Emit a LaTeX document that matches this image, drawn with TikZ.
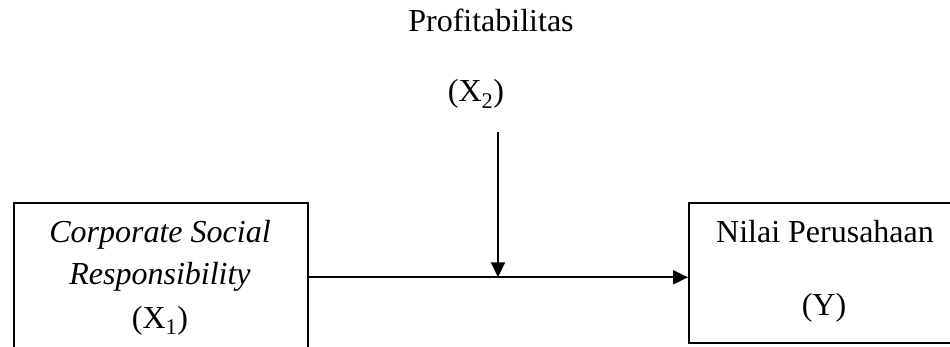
\documentclass[tikz,border=0pt]{standalone}
\usepackage{fontspec}
\setmainfont{Liberation Serif}
\usetikzlibrary{arrows.meta}
\tikzset{
  txt/.style={anchor=base,inner sep=0pt,font=\fontsize{32}{38}\selectfont},
  boxx/.style={draw,line width=2pt,inner sep=0pt,anchor=north west},
  arr/.style={line width=2pt,-{Triangle[length=15pt,width=14pt]}}
}
\begin{document}
\begin{tikzpicture}[x=1pt,y=-1pt]
\useasboundingbox (0,0) rectangle (950,347);
\begin{scope}
\clip (0,0) rectangle (950,347);
\node[boxx,minimum width=294.5pt,minimum height=170pt] (lbox) at (12.5,202.5) {};
\node[boxx,minimum width=280pt,minimum height=139.2pt] (rbox) at (688,202.5) {};
\coordinate (j) at (498,277.3);
\coordinate (top) at (498,132);
\draw[arr] (lbox.east |- j) -- (rbox.west |- j);
\draw[arr] (top) -- (j);
\end{scope}
\node[txt] (prof) at (491,32) {Profitabilitas};
\node[txt] (x2) at (476,102) {(X\textsubscript{2})};
\node[txt,font=\fontsize{32}{38}\selectfont\itshape] (csr1) at (160,243) {Corporate Social};
\node[txt,font=\fontsize{32}{38}\selectfont\itshape] (csr2) at (160,285) {Responsibility};
\node[txt] (x1) at (160,328) {(X\textsubscript{1})};
\node[txt] (np) at (825,243) {Nilai Perusahaan};
\node[txt] (y) at (824,315) {(Y)};
\end{tikzpicture}
\end{document}
